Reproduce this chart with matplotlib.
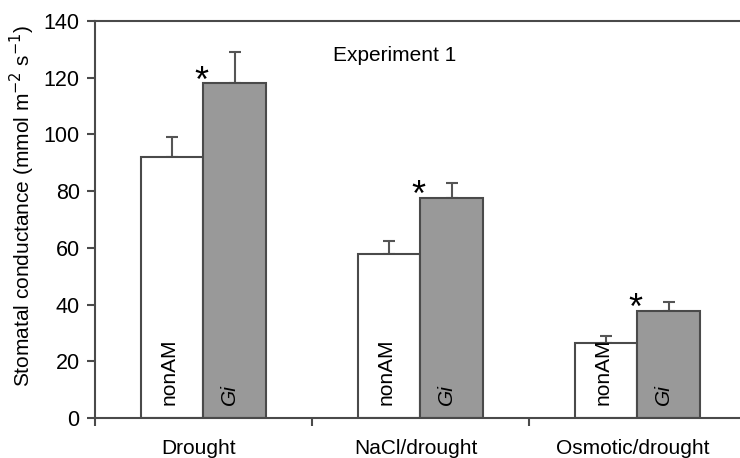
import numpy as np
import matplotlib
matplotlib.use("Agg")
import matplotlib.pyplot as plt

plt.rcParams['font.family'] = ['Liberation Sans', 'DejaVu Sans']

# data
categories = ["Drought", "NaCl/drought", "Osmotic/drought"]
nonam_vals = [92, 58, 26.5]
nonam_err = [7, 4.3, 2.5]
gi_vals = [118, 77.5, 37.8]
gi_err = [11.2, 5.5, 3.0]
significant = [True, True, True]

edge = "#4a4a4a"
gray_fill = "#999999"
fs = 15

fig = plt.figure(figsize=(7.4, 4.58), dpi=100)
ax = fig.add_axes([95 / 740, 1 - 418 / 458, 651 / 740, 397 / 458])

x = np.arange(len(categories))
w = 0.286

ax.bar(x - w / 2, nonam_vals, w, color="white", edgecolor=edge, linewidth=1.5, zorder=2)
ax.bar(x + w / 2, gi_vals, w, color=gray_fill, edgecolor=edge, linewidth=1.5, zorder=2)

# upper error bars only
ax.errorbar(x - w / 2, nonam_vals, yerr=[np.zeros(3), nonam_err], fmt="none",
            ecolor="#555555", elinewidth=1.5, capsize=4, capthick=1.5, zorder=1)
ax.errorbar(x + w / 2, gi_vals, yerr=[np.zeros(3), gi_err], fmt="none",
            ecolor="#555555", elinewidth=1.5, capsize=4, capthick=1.5, zorder=1)

# labels inside bars
for i in range(len(categories)):
    ax.text(x[i] - w / 2 - 0.015, 4.5, "nonAM", rotation=90, ha="center", va="bottom",
            fontsize=fs, color="black", zorder=3)
    ax.text(x[i] + w / 2 - 0.025, 4.5, "Gi", rotation=90, ha="center", va="bottom",
            fontsize=fs, style="italic", color="black", zorder=3)
    if significant[i]:
        ax.text(x[i] - 0.012, gi_vals[i] + 0.5, "*", ha="center", va="center",
                fontsize=26, color="black", zorder=3)

ax.text(0.597, 128, "Experiment 1", ha="left", va="center", fontsize=fs)

ax.set_xlim(-0.5, 2.5)
ax.set_ylim(0, 140)
ax.set_yticks(np.arange(0, 141, 20))
ax.set_xticks([-0.5, 0.5, 1.5, 2.5])
ax.set_xticklabels([])
ax.tick_params(axis="x", length=6, width=1.5, color=edge, direction="out")
ax.tick_params(axis="y", length=6, width=1.5, color=edge, direction="out",
               labelsize=15.5, pad=5)
for i, c in enumerate(categories):
    ax.text(x[i] - 0.022, -7.5, c, ha="center", va="top", fontsize=fs)

for s in ["left", "bottom", "top"]:
    ax.spines[s].set_color(edge)
    ax.spines[s].set_linewidth(1.5)
ax.spines["right"].set_visible(False)

ax.set_ylabel(r"Stomatal conductance (mmol m$^{-2}$ s$^{-1}$)", fontsize=fs)
ax.yaxis.set_label_coords(-0.089, 0.534)

fig.savefig("out.png", dpi=100)
